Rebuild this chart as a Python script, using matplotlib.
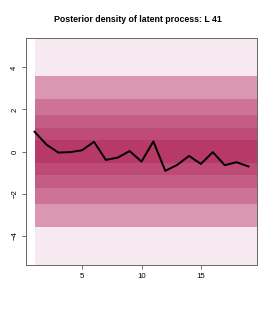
import numpy as np
import matplotlib
matplotlib.use("Agg")
import matplotlib.pyplot as plt
from matplotlib.colors import ListedColormap

plt.rcParams['font.family'] = ['Liberation Sans', 'DejaVu Sans']

# time points and posterior mean of the latent process
t = np.arange(1, 20)
post_mean = [0.94, 0.33, -0.05, -0.03, 0.06, 0.46, -0.40, -0.29, 0.02, -0.48,
             0.48, -0.92, -0.64, -0.21, -0.59, -0.03, -0.65, -0.51, -0.71]

# density band edges (same for every column) and band shades
band_edges = [-5.6, -3.6, -2.48, -1.74, -1.11, -0.54, 0.56, 1.12, 1.76, 2.5, 3.6, 5.6]
band_level = [0, 1, 2, 3, 4, 5, 4, 3, 2, 1, 0]
band_colors = ['#f6e9ef', '#d998af', '#cc7397', '#c45d86', '#be4a77', '#b73966']

fig = plt.figure(figsize=(2.75, 3.14), dpi=100)
ax = fig.add_axes([26 / 275, 1 - 265 / 314, 231 / 275, 227 / 314])

x_edges = np.arange(1, len(t) + 2)
grid = np.tile(np.array(band_level)[:, None], (1, len(t)))
ax.pcolormesh(x_edges, band_edges, grid, cmap=ListedColormap(band_colors),
              vmin=-0.5, vmax=len(band_colors) - 0.5, shading='flat')

ax.plot(t, post_mean, color='black', lw=1.4)

ax.set_xlim(0.28, 19.72)
ax.set_ylim(-5.4, 5.4)
ax.set_xticks([5, 10, 15])
ax.set_yticks([-4, -2, 0, 2, 4])
ax.tick_params(labelsize=5.6, length=3, width=0.6, color='#555555', pad=2.5)
for lab in ax.get_yticklabels():
    lab.set_rotation(90)
    lab.set_va('center')
for s in ax.spines.values():
    s.set_color('#666666')
    s.set_linewidth(0.7)

fig.text(0.5, 1 - 20 / 314, 'Posterior density of latent process: L 41',
         ha='center', va='center', fontsize=6.3, fontweight='bold')

fig.savefig('out.png', dpi=100)
